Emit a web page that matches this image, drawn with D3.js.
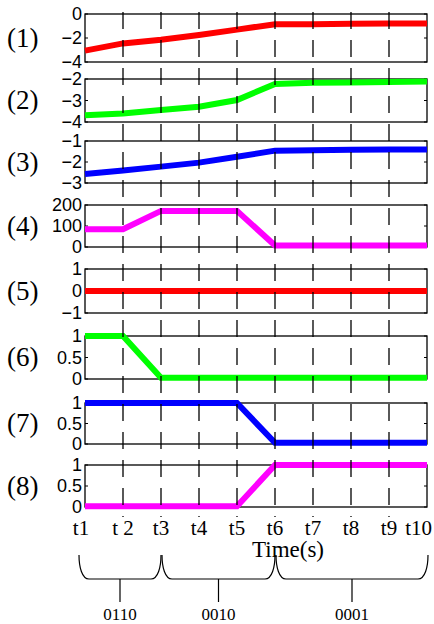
<!DOCTYPE html>
<html>
<head>
<meta charset="utf-8">
<script src="https://cdn.jsdelivr.net/npm/d3@7"></script>
<style>
  html, body { margin: 0; padding: 0; background: #fff; }
  svg { display: block; }
</style>
</head>
<body>
<svg id="chart" width="434" height="624"></svg>
<script>
// Time instants along the horizontal axis
const timeLabels = ["t1", "t 2", "t3", "t4", "t5", "t6", "t7", "t8", "t9", "t10"];

// Signal values at each instant, one array per subplot
const series1 = [-3.05, -2.45, -2.15, -1.75, -1.3, -0.85, -0.85, -0.82, -0.8, -0.8];
const series2 = [-3.69, -3.6, -3.44, -3.29, -2.98, -2.23, -2.18, -2.16, -2.14, -2.12];
const series3 = [-2.57, -2.4, -2.22, -2.03, -1.75, -1.46, -1.44, -1.42, -1.41, -1.4];
const series4 = [85, 85, 172, 172, 172, 7, 7, 7, 7, 7];
const series5 = [0, 0, 0, 0, 0, 0, 0, 0, 0, 0];
const series6 = [1, 1, 0.03, 0.03, 0.03, 0.03, 0.03, 0.03, 0.03, 0.03];
const series7 = [1, 1, 1, 1, 1, 0.03, 0.03, 0.03, 0.03, 0.03];
const series8 = [0.02, 0.02, 0.02, 0.02, 0.02, 1, 1, 1, 1, 1];

// Y-axis ranges and tick labels per subplot
const yDomains = [[-4, 0], [-4, -2], [-3, -1], [0, 200], [-1, 1], [0, 1], [0, 1], [0, 1]];
const yTicks = [[0, -2, -4], [-2, -3, -4], [-1, -2, -3], [200, 100, 0], [1, 0, -1], [1, 0.5, 0], [1, 0.5, 0], [1, 0.5, 0]];
const panelNames = ["(1)", "(2)", "(3)", "(4)", "(5)", "(6)", "(7)", "(8)"];

// Switching codes and the time span (index range) each one covers
const codeLabels = ["0110", "0010", "0001"];
const codeSpans = [[0, 2], [2, 5], [5, 9]];

const allSeries = [series1, series2, series3, series4, series5, series6, series7, series8];
const colors = ["#ff0000", "#00ff00", "#0000ff", "#ff00ff", "#ff0000", "#00ff00", "#0000ff", "#ff00ff"];

// Layout of the stacked subplots
const panelTops = [14, 79, 141, 205, 269, 336, 403, 465];
const panelBottoms = [62, 122, 183, 247, 313, 379, 444, 507];
const left = 85, right = 427;

const svg = d3.select("#chart");

const x = d3.scalePoint().domain(d3.range(timeLabels.length)).range([left, right]);

const line = d3.line();

panelNames.forEach((name, i) => {
  const y = d3.scaleLinear().domain(yDomains[i]).range([panelBottoms[i], panelTops[i]]);
  const g = svg.append("g");

  // box
  g.append("rect")
    .attr("x", left).attr("y", panelTops[i])
    .attr("width", right - left).attr("height", panelBottoms[i] - panelTops[i])
    .attr("fill", "none").attr("stroke", "#000").attr("stroke-width", 1.3);

  // inward ticks on both sides
  const ticks = yTicks[i];
  ticks.forEach(t => {
    g.append("line").attr("x1", left).attr("x2", left + 3).attr("y1", y(t)).attr("y2", y(t))
      .attr("stroke", "#000").attr("stroke-width", 1);
    g.append("line").attr("x1", right - 3).attr("x2", right).attr("y1", y(t)).attr("y2", y(t))
      .attr("stroke", "#000").attr("stroke-width", 1);
  });

  // tick labels
  g.selectAll("text.ytick").data(ticks).enter().append("text")
    .attr("class", "ytick")
    .attr("x", left - 3).attr("y", d => y(d))
    .attr("dy", "0.36em")
    .attr("text-anchor", "end")
    .attr("font-family", "Liberation Sans, Arial, sans-serif")
    .attr("font-size", 18)
    .text(d => d3.format("")(d));

  // subplot number
  g.append("text")
    .attr("x", 7).attr("y", (panelTops[i] + panelBottoms[i]) / 2)
    .attr("dy", "0.33em")
    .attr("font-family", "Liberation Serif, Times New Roman, serif")
    .attr("font-size", 27)
    .text(name);

  // signal
  g.append("path")
    .attr("d", line(allSeries[i].map((v, k) => [x(k), y(v)])))
    .attr("fill", "none")
    .attr("stroke", colors[i])
    .attr("stroke-width", 6);
});

// dashed time markers drawn over all subplots
svg.append("g").selectAll("line").data(d3.range(1, timeLabels.length - 1)).enter().append("line")
  .attr("x1", d => x(d)).attr("x2", d => x(d))
  .attr("y1", 12).attr("y2", 517)
  .attr("stroke", "#000").attr("stroke-width", 1.3)
  .attr("stroke-dasharray", "17,11");

// time tick labels
const tl = svg.append("g").selectAll("text").data(timeLabels).enter().append("text")
  .attr("x", (d, k) => x(k)).attr("y", 535)
  .attr("text-anchor", "middle")
  .attr("font-family", "Liberation Serif, Times New Roman, serif")
  .attr("font-size", 21)
  .text(d => d);
// keep the end labels inside the canvas
tl.each(function (d, k) {
  const w = this.getComputedTextLength();
  let cx = x(k);
  if (k === 0) cx -= 4;
  cx = Math.min(cx, 434 - w / 2 - 2);
  d3.select(this).attr("x", cx);
});

svg.append("text")
  .attr("x", 288).attr("y", 557)
  .attr("text-anchor", "middle")
  .attr("font-family", "Liberation Serif, Times New Roman, serif")
  .attr("font-size", 23)
  .text("Time(s)");

// braces grouping the time spans by switching code
const braceTop = 555, braceBase = 579, stemEnd = 602;
codeSpans.forEach((span, i) => {
  const x0 = x(span[0]) - (i === 0 ? 6 : 0) + (i === 0 ? 0 : 1);
  const x1 = x(span[1]) + (i === codeSpans.length - 1 ? 1 : 0);
  const r = 10;
  const p = d3.path();
  p.moveTo(x0, braceTop);
  p.bezierCurveTo(x0, braceBase - 12, x0 + 3, braceBase, x0 + r, braceBase);
  p.lineTo(x1 - r, braceBase);
  p.bezierCurveTo(x1 - 3, braceBase, x1, braceBase - 12, x1, braceTop);
  const xm = (x0 + x1) / 2;
  p.moveTo(xm, braceBase);
  p.lineTo(xm, stemEnd);
  svg.append("path").attr("d", p.toString())
    .attr("fill", "none").attr("stroke", "#000").attr("stroke-width", 1.2);
  svg.append("text")
    .attr("x", xm).attr("y", 620)
    .attr("text-anchor", "middle")
    .attr("font-family", "Liberation Serif, Times New Roman, serif")
    .attr("font-size", 17)
    .text(codeLabels[i]);
});
</script>
</body>
</html>
